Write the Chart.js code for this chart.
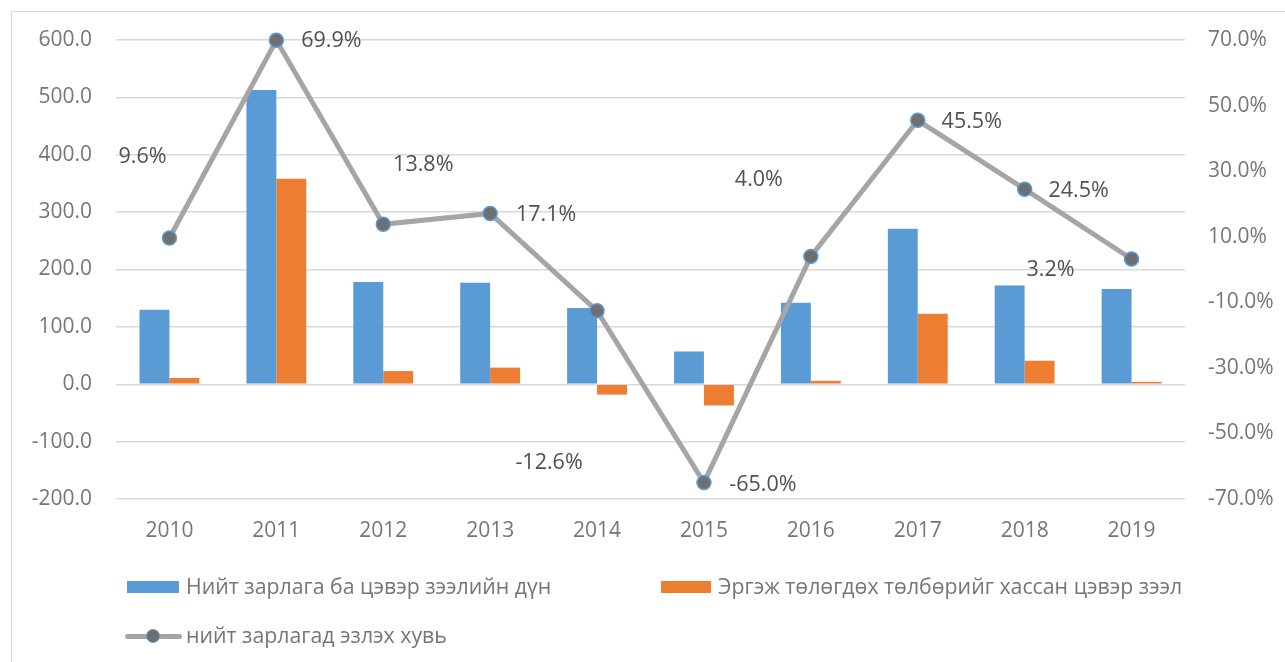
<!DOCTYPE html>
<html>
<head>
<meta charset="utf-8">
<script src="https://cdn.jsdelivr.net/npm/chart.js@4.4.1/dist/chart.umd.min.js"></script>
<style>
  html, body { margin: 0; padding: 0; background: #fff; }
  #wrap { position: relative; width: 1285px; height: 662px; overflow: hidden; font-family: "Open Sans", sans-serif; }
  #frame { position: absolute; left: 11px; top: 11px; width: 1300px; height: 700px; border-left: 1.5px solid #D9D9D9; border-top: 1.5px solid #D9D9D9; }
  canvas { position: absolute; left: 0; top: 0; }
  .leg { position: absolute; font-size: 21.3px; color: #767676; white-space: nowrap; line-height: 26px; }
  .box { position: absolute; height: 12px; }
</style>
</head>
<body>
<div id="wrap">
  <div id="frame"></div>
  <canvas id="c" width="1285" height="662"></canvas>
  <div id="legend"></div>
</div>
<script>
const categories = ['2010','2011','2012','2013','2014','2015','2016','2017','2018','2019'];
const totalSpending = [130, 513, 178, 177, 133, 57, 142, 271, 172, 166];
const netLoan = [11, 358, 23, 29, -18, -37, 6, 123, 41, 4];
const sharePct = [9.6, 69.9, 13.8, 17.1, -12.6, -65.0, 4.0, 45.5, 24.5, 3.2];
const seriesNames = ['Нийт зарлага ба цэвэр зээлийн дүн', 'Эргэж төлөгдөх төлбөрийг хассан цэвэр зээл', 'нийт зарлагад эзлэх хувь'];

const FONT = '"Open Sans", sans-serif';
const labelOffsets = [[-27,-81],[55,1],[40,-59],[56,1],[-48,152],[59,2],[-52,-77],[54,2],[54,2],[-81,11]];

const labelPlugin = {
  id: 'pctLabels',
  afterDatasetsDraw(chart) {
    const meta = chart.getDatasetMeta(0);
    const ctx = chart.ctx;
    ctx.save();
    ctx.font = '21.5px ' + FONT;
    ctx.fillStyle = '#505050';
    ctx.textAlign = 'center';
    ctx.textBaseline = 'middle';
    meta.data.forEach((pt, i) => {
      const o = labelOffsets[i];
      ctx.fillText(sharePct[i].toFixed(1) + '%', pt.x + o[0], pt.y + o[1]);
    });
    ctx.restore();
  }
};

new Chart(document.getElementById('c'), {
  data: {
    labels: categories,
    datasets: [
      { type: 'line', label: seriesNames[2], data: sharePct, yAxisID: 'y1', clip: false,
        borderColor: '#A5A5A5', borderWidth: 5, pointRadius: 7, pointBackgroundColor: '#6F6F6F',
        pointBorderColor: '#5B9BD5', pointBorderWidth: 1.5, tension: 0, order: 0 },
      { type: 'bar', label: seriesNames[0], data: totalSpending, yAxisID: 'y',
        backgroundColor: '#5B9BD5', barPercentage: 1, categoryPercentage: 0.56, order: 1 },
      { type: 'bar', label: seriesNames[1], data: netLoan, yAxisID: 'y',
        backgroundColor: '#ED7D31', barPercentage: 1, categoryPercentage: 0.56, order: 2 }
    ]
  },
  options: {
    responsive: false,
    animation: false,
    layout: { padding: { top: 40, left: 0, right: 0, bottom: 0 } },
    plugins: { legend: { display: false }, tooltip: { enabled: false } },
    scales: {
      x: {
        grid: { display: false, drawTicks: false },
        border: { display: false },
        ticks: { color: '#767676', font: { family: FONT, size: 21 }, padding: 19 },
        afterFit(s) { s.height = 163; }
      },
      y: {
        position: 'left', min: -200, max: 600,
        ticks: { stepSize: 100, color: '#767676', font: { family: FONT, size: 21 }, padding: 24,
                 callback: v => v.toFixed(1) },
        grid: { color: '#D9D9D9', lineWidth: 1.5, drawTicks: false },
        border: { display: false },
        afterFit(s) { s.width = 116; }
      },
      y1: {
        position: 'right', min: -70, max: 70,
        ticks: { stepSize: 20, color: '#767676', font: { family: FONT, size: 21 }, padding: 23,
                 callback: v => v.toFixed(1) + '%' },
        grid: { display: false, drawTicks: false },
        border: { display: false },
        afterFit(s) { s.width = 100; }
      }
    }
  },
  plugins: [labelPlugin]
});

// HTML legend built from series names
const lg = document.getElementById('legend');
function addItem(x, w, textX, cy, color, text, isLine) {
  if (isLine) {
    const l = document.createElement('div');
    l.style.cssText = `position:absolute;left:${x}px;top:${cy-2.5}px;width:${w}px;height:5px;background:#A5A5A5;border-radius:3px;`;
    lg.appendChild(l);
    const d = document.createElement('div');
    d.style.cssText = `position:absolute;left:${x + w/2 - 7.5}px;top:${cy-7.5}px;width:12px;height:12px;border-radius:50%;background:#6F6F6F;border:1.5px solid #5B9BD5;`;
    lg.appendChild(d);
  } else {
    const b = document.createElement('div');
    b.className = 'box';
    b.style.left = x + 'px'; b.style.top = (cy - 6) + 'px'; b.style.width = w + 'px'; b.style.background = color;
    lg.appendChild(b);
  }
  const t = document.createElement('div');
  t.className = 'leg';
  t.style.left = textX + 'px';
  t.style.top = (cy - 14) + 'px';
  t.textContent = text;
  lg.appendChild(t);
}
addItem(127, 52, 186, 587, '#5B9BD5', seriesNames[0], false);
addItem(661, 50, 718, 587, '#ED7D31', seriesNames[1], false);
addItem(125, 57, 186, 636, '#A5A5A5', seriesNames[2], true);
</script>
</body>
</html>
